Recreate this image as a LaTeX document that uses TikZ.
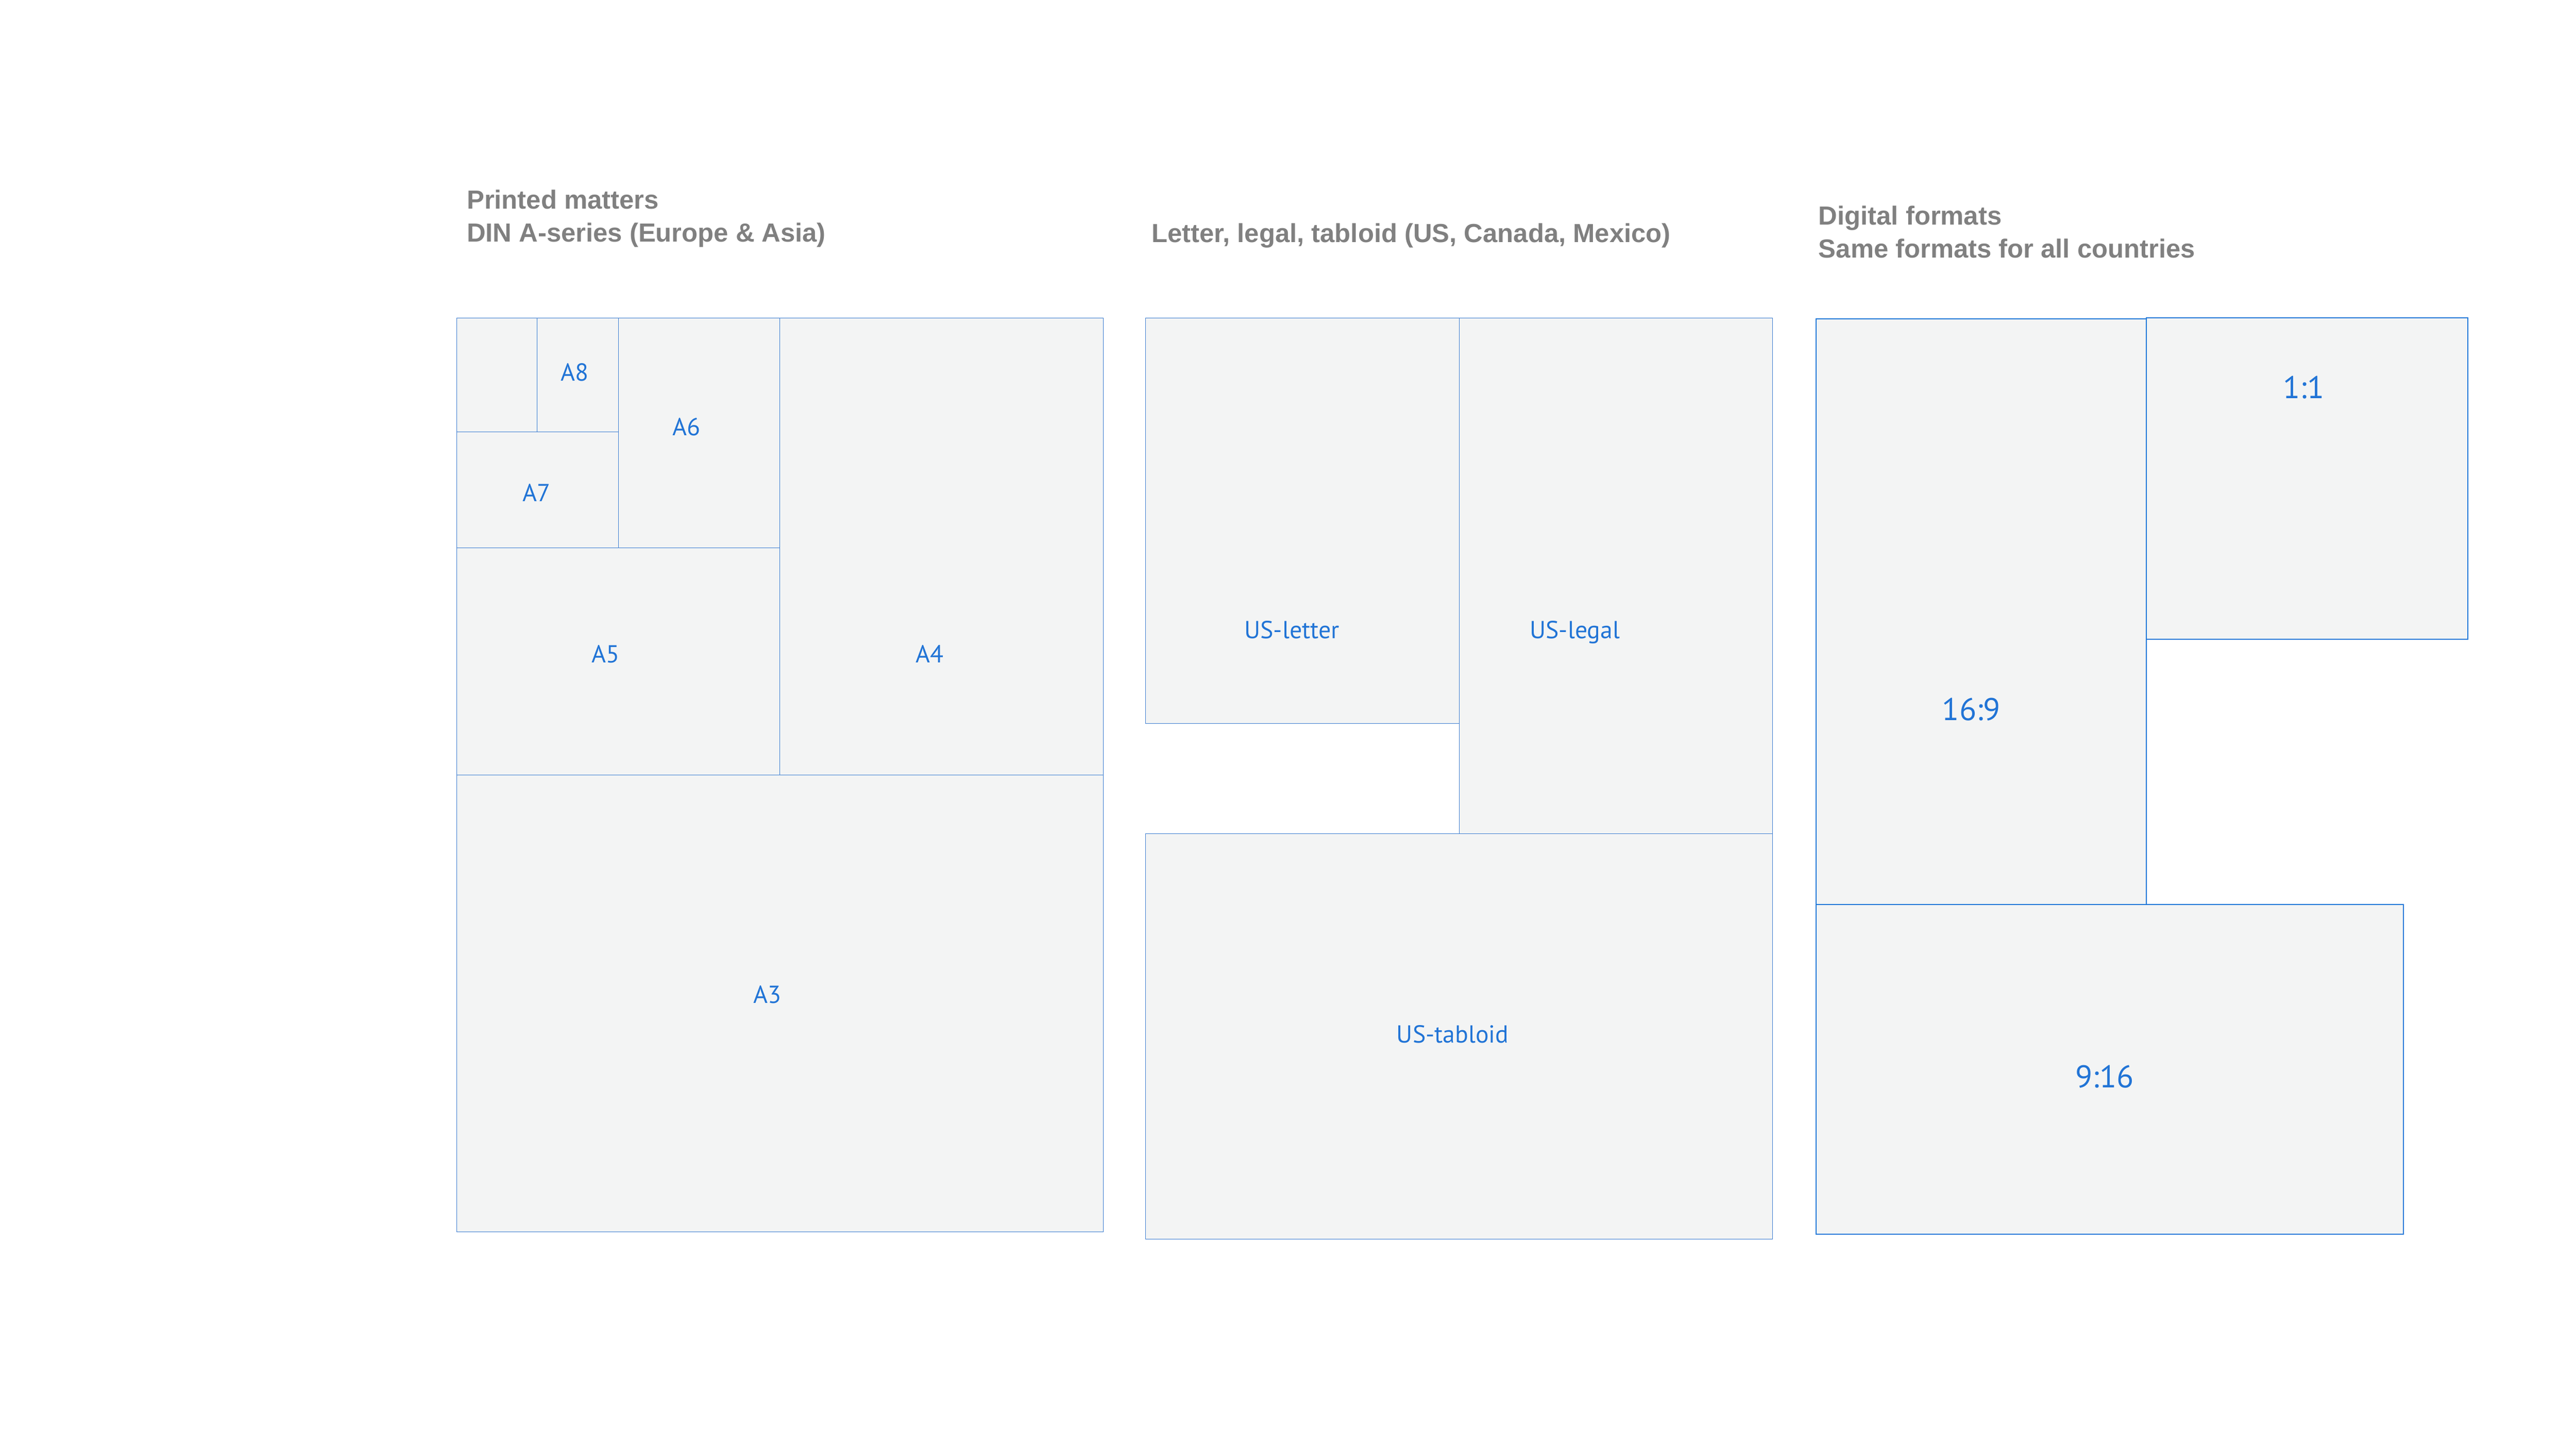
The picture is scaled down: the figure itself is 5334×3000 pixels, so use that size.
\documentclass[tikz,border=0pt]{standalone}
\usepackage{fontspec}
\setmainfont{Liberation Sans}
\newfontfamily\labelfont{PT Sans}
\definecolor{titlegray}{HTML}{808080}
\definecolor{sheetfill}{HTML}{F3F4F4}
\definecolor{sheetline}{HTML}{3A7BD0}
\definecolor{screenline}{HTML}{1F77D8}
\definecolor{labelblue}{HTML}{2174D6}
\begin{document}
\begin{tikzpicture}[x=0.01cm,y=-0.01cm,
  sheet/.style={draw=sheetline,fill=sheetfill,line width=0.3pt},
  screen/.style={draw=screenline,fill=sheetfill,line width=0.6pt},
  fmt label/.style={anchor=base,inner sep=0pt,text=labelblue,
    font=\labelfont\fontsize{14.5}{17}\selectfont},
  big label/.style={fmt label,font=\labelfont\fontsize{18.5}{22}\selectfont},
  title/.style={anchor=base west,inner sep=0pt,text=titlegray,
    font=\fontsize{15.4}{19}\selectfont\bfseries}]

  \useasboundingbox (0,0) rectangle (5334,3000);

  % DIN A-series
  \node[title] (din1) at (966,433) {Printed matters};
  \node[title] (din2) at (966,501) {DIN A-series (Europe \& Asia)};
  \draw[sheet] (946,1605) rectangle (2285,2551);
  \draw[sheet] (1615,659) rectangle (2285,1605);
  \draw[sheet] (946,1134) rectangle (1615,1605);
  \draw[sheet] (1281,659) rectangle (1615,1134);
  \draw[sheet] (946,894) rectangle (1281,1134);
  \draw[sheet] (1112,659) rectangle (1281,894);
  \draw[sheet] (946,659) rectangle (1112,894);
  \node[fmt label] (a8) at (1190,789) {A8};
  \node[fmt label] (a6) at (1422,902) {A6};
  \node[fmt label] (a7) at (1111,1038) {A7};
  \node[fmt label] (a5) at (1254,1372) {A5};
  \node[fmt label] (a4) at (1925,1372) {A4};
  \node[fmt label] (a3) at (1589,2078) {A3};

  % US formats
  \node[title] (us) at (2384,502) {Letter, legal, tabloid (US, Canada, Mexico)};
  \draw[sheet] (2372,659) rectangle (3022,1498);
  \draw[sheet] (3022,659) rectangle (3670,1727);
  \draw[sheet] (2372,1727) rectangle (3670,2566);
  \node[fmt label] (letter) at (2675,1322) {US-letter};
  \node[fmt label] (legal) at (3261,1322) {US-legal};
  \node[fmt label] (tabloid) at (3008,2160) {US-tabloid};

  % digital
  \node[title] (dig1) at (3765,466) {Digital formats};
  \node[title] (dig2) at (3765,534) {Same formats for all countries};
  \draw[screen] (3760,660) rectangle (4444,1873);
  \draw[screen] (4444,658) rectangle (5110,1324);
  \draw[screen] (3760,1873) rectangle (4977,2556);
  \node[big label] (portrait) at (4082,1492) {16:9};
  \node[big label] (square) at (4770,825) {1:1};
  \node[big label] (landscape) at (4358,2253) {9:16};
\end{tikzpicture}
\end{document}
